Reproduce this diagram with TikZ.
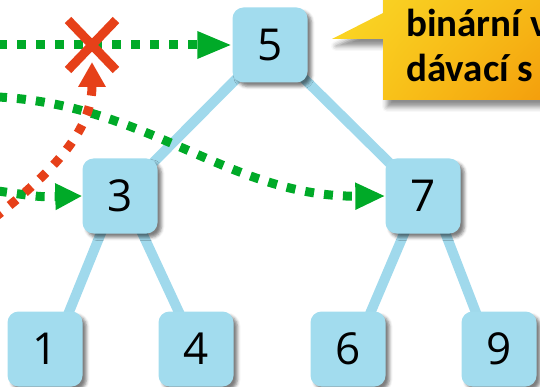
\documentclass[tikz,border=0pt]{standalone}
\usepackage{fontspec}
\setmainfont{Open Sans}
\newfontfamily\calloutfont{Carlito}
\usetikzlibrary{arrows.meta,shadows.blur,shadings}
\definecolor{boxblue}{RGB}{162,220,238}
\definecolor{edgeblue}{RGB}{160,217,236}
\definecolor{arrgreen}{RGB}{0,170,40}
\definecolor{arrred}{RGB}{230,64,25}
\definecolor{cyellowA}{RGB}{250,218,40}
\definecolor{cyellowB}{RGB}{250,206,30}
\definecolor{corangeA}{RGB}{246,182,20}
\definecolor{corangeB}{RGB}{243,152,10}
\pgfdeclarelayer{bg}
\pgfsetlayers{bg,main}
\begin{document}
\begin{tikzpicture}[x=1pt,y=-1pt,
  keybox/.style={fill=boxblue, rounded corners=11pt, minimum width=75pt, minimum height=75pt, inner sep=0pt,
    font=\fontsize{44}{44}\selectfont,
    blur shadow={shadow xshift=4pt, shadow yshift=-4pt, shadow blur radius=3pt, shadow opacity=50}},
  treeedge/.style={edgeblue, line width=10pt},
  greenpath/.style={arrgreen, line width=9pt, dash pattern=on 9pt off 10pt},
  redpath/.style={arrred, line width=9pt, dash pattern=on 9pt off 11pt, -{Triangle[length=25pt,width=26pt]}},
  callouttext/.style={font=\calloutfont\bfseries\fontsize{39}{39}\selectfont, anchor=base west, inner sep=0pt},
]
\useasboundingbox (0,0) rectangle (540,387);
\clip (0,0) rectangle (540,387);

% callout
\path[upper left=cyellowA, lower left=cyellowB, upper right=corangeA, lower right=corangeB,
  blur shadow={shadow xshift=4pt, shadow yshift=-7pt, shadow blur radius=5pt, shadow opacity=45}]
  (383,-10) -- (383,13) -- (332,39) -- (383,39) -- (383,100) -- (570,100) -- (570,-10) -- cycle;
\node[callouttext] (t1) at (406,37) {binární v};
\node[callouttext] (t2) at (406,82) {dávací s};

% tree nodes
\node[keybox] (n5) at (270,45) {5};
\node[keybox] (n3) at (120,196) {3};
\node[keybox] (n7) at (423,196) {7};
\node[keybox] (n1) at (45,349) {1};
\node[keybox] (n4) at (196,349) {4};
\node[keybox] (n6) at (348,349) {6};
\node[keybox] (n9) at (499,349) {9};

\begin{pgfonlayer}{bg}
\draw[treeedge] (n5.center) -- (n3.center);
\draw[treeedge] (n5.center) -- (n7.center);
\draw[treeedge] ([xshift=-4pt]n3.center) -- ([xshift=9pt]n1.center);
\draw[treeedge] ([xshift=5pt]n3.center) -- (n4.center);
\draw[treeedge] ([xshift=-3pt]n7.center) -- ([xshift=7pt]n6.center);
\draw[treeedge] ([xshift=8pt]n7.center) -- ([xshift=-9pt]n9.center);
\end{pgfonlayer}

% green arrows
\coordinate (g1s) at (-2,45);
\coordinate (g2s) at (-2,97);
\coordinate (g3s) at (-2,191);
\draw[greenpath, -{Triangle[length=35pt,width=25pt]}] (g1s) -- (n5.west);
\draw[greenpath, -{Triangle[length=30pt,width=25pt]}] (g2s) .. controls (150,105) and (230,197) .. (n7.west);
\draw[greenpath, -{Triangle[length=27pt,width=25pt]}] (g3s) .. controls (40,197) .. (n3.west);

% red arrow and cross
\coordinate (r1s) at (-6,218);
\coordinate (rtip) at (92,62);
\draw[redpath] (r1s) .. controls (55,170) and (92,130) .. (rtip);
\coordinate (xc) at (92,45);
\draw[arrred, line width=9pt] ([shift={(-24,-25)}]xc) -- ([shift={(24,25)}]xc);
\draw[arrred, line width=9pt] ([shift={(-24,25)}]xc) -- ([shift={(24,-25)}]xc);
\end{tikzpicture}
\end{document}
